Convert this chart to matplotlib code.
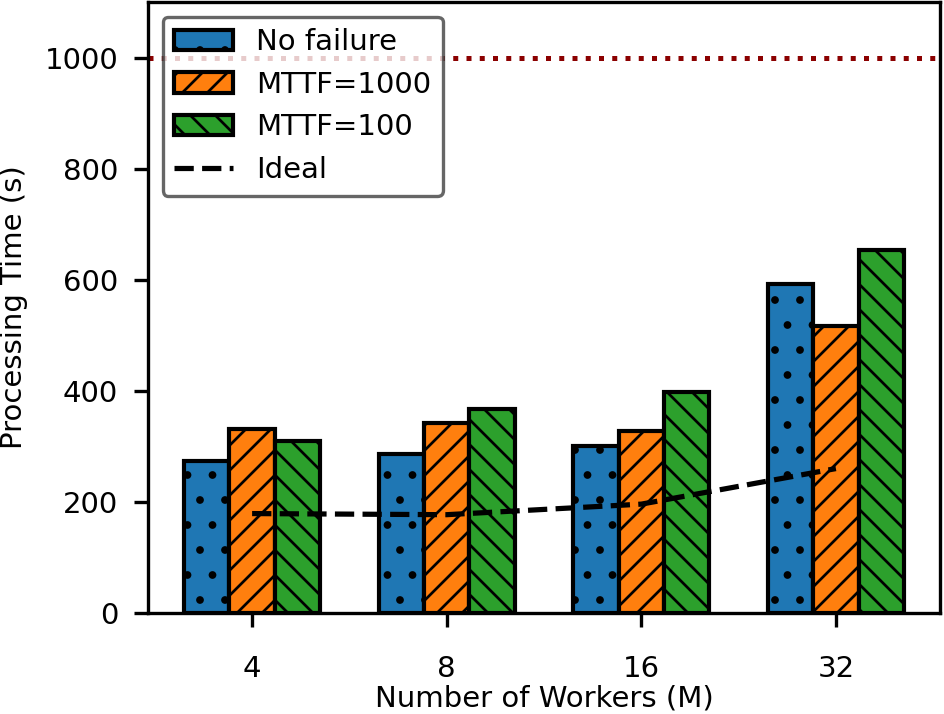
import numpy as np
import matplotlib
matplotlib.use('Agg')
import matplotlib.pyplot as plt

plt.rcParams['font.family'] = ['DejaVu Sans']
plt.rcParams['font.size'] = 14
plt.rcParams['hatch.linewidth'] = 1.3

# 数据
workers = ['4', '8', '16', '32']
no_failure = [274, 286, 301, 593]
mttf_1000 = [331, 342, 327, 516]
mttf_100 = [309, 368, 398, 653]
ideal = [179, 177, 196, 260]
deadline = 1000

x = np.arange(len(workers))
width = 0.7 / 3

fig = plt.figure(figsize=(944 / 150, 714 / 150), dpi=150)
ax = fig.add_axes([148 / 944, 1 - 613 / 714, (940 - 148) / 944, (613 - 2) / 714])

bar_kw = dict(edgecolor='black', linewidth=2.0)
ax.bar(x - width, no_failure, width, color='#1f77b4', hatch='.', label='No failure', **bar_kw)
ax.bar(x, mttf_1000, width, color='#ff7f0e', hatch='//', label='MTTF=1000', **bar_kw)
ax.bar(x + width, mttf_100, width, color='#2ca02c', hatch='\\\\', label='MTTF=100', **bar_kw)
ax.plot(x, ideal, color='black', linestyle='--', linewidth=2.5, label='Ideal', zorder=5)
ax.axhline(deadline, color='darkred', linestyle=':', linewidth=2.4)

ax.set_ylim(0, 1100)
ax.set_xticks(x)
ax.set_xticklabels(workers)
ax.set_yticks([0, 200, 400, 600, 800, 1000])
ax.set_xlabel('Number of Workers (M)', labelpad=1)
ax.set_ylabel('Processing Time (s)', labelpad=8)

for sp in ax.spines.values():
    sp.set_linewidth(1.6)
ax.tick_params(width=1.6, length=6.5)
ax.tick_params(axis='x', pad=13.5)
ax.tick_params(axis='y', pad=7.8)

# 图例顺序：柱状在前，Ideal 在后
handles, labels = ax.get_legend_handles_labels()
order = [1, 2, 3, 0]
leg = ax.legend([handles[i] for i in order], [labels[i] for i in order],
                loc='upper left', fontsize=14, framealpha=0.8)
leg.get_frame().set_edgecolor('0.25')
leg.get_frame().set_linewidth(1.6)

plt.savefig('out.png', dpi=150)
